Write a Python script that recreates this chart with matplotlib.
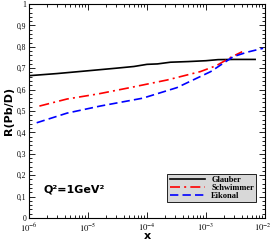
import numpy as np
import matplotlib
matplotlib.use("Agg")
import matplotlib.pyplot as plt
import matplotlib.transforms as mtransforms
from matplotlib.ticker import MultipleLocator, LogLocator, FixedLocator, NullFormatter

plt.rcParams["mathtext.fontset"] = "stix"

# Data (x values, R values)
glauber_x = [1e-6, 3e-6, 1e-5, 3e-5, 6e-5, 1e-4, 1.5e-4, 2.5e-4, 5e-4, 1e-3, 1.6e-3, 3e-3, 6.8e-3]
glauber_y = [0.665, 0.675, 0.688, 0.700, 0.708, 0.718, 0.720, 0.728, 0.731, 0.735, 0.740, 0.741, 0.741]

schw_x = [1.5e-6, 4.4e-6, 1.5e-5, 5.1e-5, 2.2e-4, 8e-4, 1.5e-3, 2.6e-3, 4.1e-3]
schw_y = [0.523, 0.556, 0.580, 0.609, 0.645, 0.684, 0.712, 0.750, 0.777]

eik_x = [1.35e-6, 4.4e-6, 1.6e-5, 8.5e-5, 3.2e-4, 1.2e-3, 2.9e-3, 5e-3, 9.3e-3]
eik_y = [0.445, 0.490, 0.523, 0.560, 0.609, 0.684, 0.754, 0.775, 0.793]

y_ticks = [0, 0.1, 0.2, 0.3, 0.4, 0.5, 0.6, 0.7, 0.8, 0.9, 1.0]
y_tick_labels = ["0", "0,1", "0,2", "0,3", "0,4", "0,5", "0,6", "0,7", "0,8", "0,9", "1"]
x_ticks = [1e-6, 1e-5, 1e-4, 1e-3, 1e-2]
x_tick_labels = [r"$10^{-6}$", r"$10^{-5}$", r"$10^{-4}$", r"$10^{-3}$", r"$10^{-2}$"]

fig = plt.figure(figsize=(2.72, 2.41), dpi=100)
ax = fig.add_axes([29/272, 1 - 218/241, (265-29)/272, (218-4)/241])

ax.plot(glauber_x, glauber_y, color="black", lw=1.2, ls="-", label="Glauber")
ax.plot(schw_x, schw_y, color="red", lw=1.2, ls=(0, (6, 2.5, 1.2, 2.5)), label="Schwimmer")
ax.plot(eik_x, eik_y, color="blue", lw=1.2, ls=(0, (5, 2.5)), label="Eikonal")

ax.set_xscale("log")
ax.set_xlim(1e-6, 1e-2)
ax.set_ylim(0, 1)
ax.xaxis.set_major_locator(FixedLocator(x_ticks))
ax.set_xticklabels(x_tick_labels, fontsize=6.2)
ax.xaxis.set_minor_locator(LogLocator(base=10, subs=np.arange(2, 10)))
ax.xaxis.set_minor_formatter(NullFormatter())
ax.yaxis.set_major_locator(FixedLocator(y_ticks))
ax.set_yticklabels(y_tick_labels, family="Liberation Serif", fontsize=5.5)
ax.yaxis.set_minor_locator(MultipleLocator(0.02))

ax.tick_params(which="both", direction="in", top=True, right=True, width=0.6)
ax.tick_params(which="major", length=4, pad=2)
ax.tick_params(axis="x", which="major", pad=2.5)
ax.tick_params(which="minor", length=2)
for s in ax.spines.values():
    s.set_linewidth(0.8)

# keep the last x tick label inside the canvas
last = ax.get_xticklabels()[-1]
last.set_transform(last.get_transform() + mtransforms.ScaledTranslation(-2.5/100, 0, fig.dpi_scale_trans))

ax.set_xlabel("x", fontsize=8, fontweight="bold", labelpad=-1.5)
ax.set_ylabel("R(Pb/D)", fontsize=8, fontweight="bold", labelpad=2)

ax.text(0.06, 0.12, "Q²=1GeV²", transform=ax.transAxes,
        fontsize=8, fontweight="bold", va="baseline")

leg = ax.legend(loc="lower right", bbox_to_anchor=(0.962, 0.075),
                prop={"family": "Liberation Serif", "weight": "bold", "size": 6},
                frameon=True, fancybox=False, handlelength=4.2, handletextpad=0.8,
                borderpad=0.25, labelspacing=0.0, borderaxespad=0)
leg.get_frame().set_facecolor("#d8d8d8")
leg.get_frame().set_edgecolor("black")
leg.get_frame().set_linewidth(0.6)
leg.get_frame().set_alpha(1)

fig.savefig("out.png", dpi=100)
